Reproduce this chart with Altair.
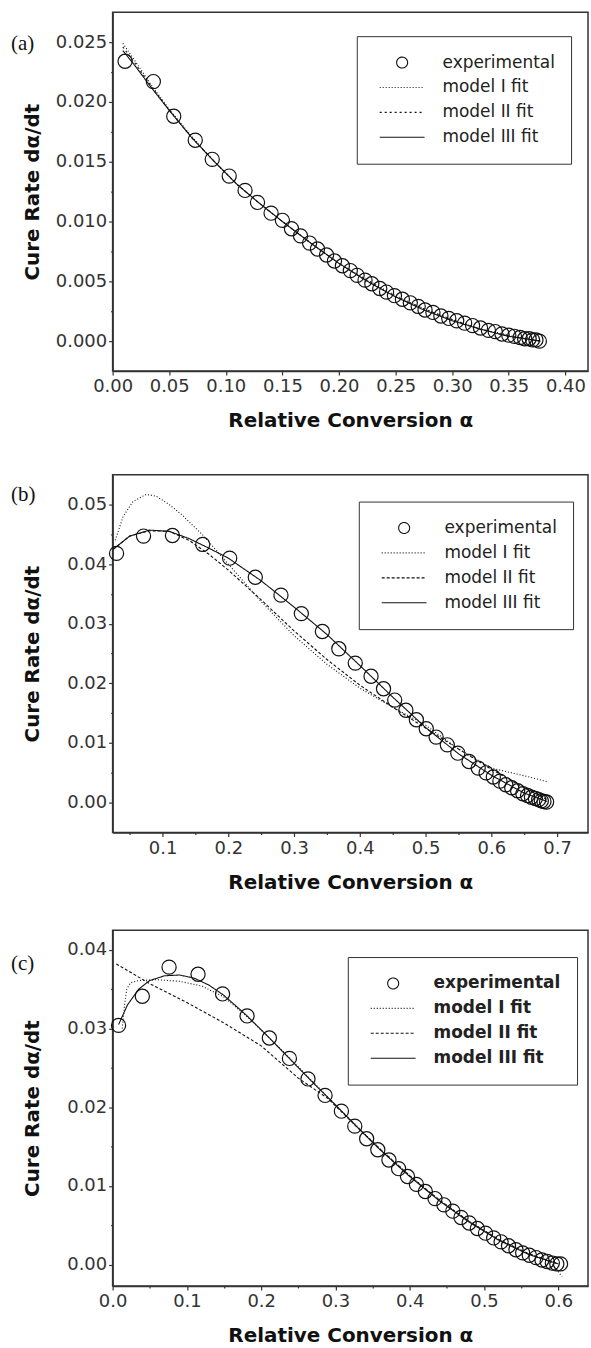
import altair as alt
import pandas as pd

SERIES = ["experimental", "model I fit", "model II fit", "model III fit"]
CIRCLE_PATH = "M0.245,0A0.245,0.245,0,1,1,-0.245,0A0.245,0.245,0,1,1,0.245,0Z"
LINE_PATH = "M-1,0L1,0"
SHAPES = [CIRCLE_PATH, LINE_PATH, LINE_PATH, LINE_PATH]

X_TITLE = "Relative Conversion α"
Y_TITLE = "Cure Rate dα/dt"
PANEL_LABELS = ["(a)", "(b)", "(c)"]

# ---------------- panel (a) ----------------
a_exp_x = [0.011, 0.036, 0.054, 0.073, 0.088, 0.103, 0.117, 0.128, 0.140, 0.150,
           0.158, 0.166, 0.174, 0.181, 0.189, 0.196, 0.203, 0.210, 0.216, 0.223,
           0.229, 0.236, 0.242, 0.249, 0.256, 0.263, 0.270, 0.276, 0.283, 0.290,
           0.297, 0.304, 0.311, 0.318, 0.325, 0.332, 0.338, 0.344, 0.350, 0.355,
           0.360, 0.364, 0.368, 0.371, 0.374, 0.377]
a_exp_y = [0.0234, 0.0217, 0.0188, 0.0168, 0.0152, 0.0138, 0.0126, 0.0116, 0.0107, 0.0101,
           0.0094, 0.0088, 0.0082, 0.0077, 0.0072, 0.0067, 0.0063, 0.0059, 0.0055, 0.0051,
           0.0048, 0.0044, 0.0041, 0.0038, 0.0035, 0.0032, 0.0029, 0.0026, 0.0024, 0.0021,
           0.0019, 0.0017, 0.0015, 0.0013, 0.0011, 0.0009, 0.0008, 0.0006, 0.0005, 0.0004,
           0.0003, 0.0002, 0.0002, 0.0001, 0.0001, 0.0000]
a_fit_x = [0.009, 0.02, 0.035, 0.05, 0.07, 0.09, 0.11, 0.13, 0.15, 0.175, 0.20, 0.225,
           0.25, 0.275, 0.30, 0.325, 0.35, 0.365, 0.378]
a_m1_y = [0.0249, 0.0234, 0.0213, 0.0194, 0.0171, 0.0150, 0.0131, 0.0115, 0.0100, 0.0082,
          0.0065, 0.0051, 0.0038, 0.0027, 0.0018, 0.0010, 0.0005, 0.0002, 0.0000]
a_m2_y = [0.0246, 0.0232, 0.0212, 0.0193, 0.0170, 0.0150, 0.0131, 0.0115, 0.0100, 0.0082,
          0.0065, 0.0050, 0.0037, 0.0027, 0.0018, 0.0010, 0.0004, 0.0002, 0.0000]
a_m3_y = [0.0243, 0.0230, 0.0211, 0.0193, 0.0170, 0.0150, 0.0131, 0.0115, 0.0100, 0.0082,
          0.0065, 0.0050, 0.0037, 0.0026, 0.0017, 0.0010, 0.0004, 0.0002, 0.0000]

# ---------------- panel (b) ----------------
b_exp_x = [0.030, 0.071, 0.115, 0.161, 0.202, 0.241, 0.280, 0.311, 0.343, 0.368,
           0.393, 0.417, 0.436, 0.453, 0.470, 0.486, 0.501, 0.516, 0.533, 0.549,
           0.566, 0.580, 0.592, 0.603, 0.613, 0.622, 0.631, 0.640, 0.648, 0.655,
           0.661, 0.667, 0.672, 0.676, 0.680, 0.684]
b_exp_y = [0.0418, 0.0447, 0.0448, 0.0433, 0.0410, 0.0378, 0.0348, 0.0317, 0.0287, 0.0258,
           0.0234, 0.0212, 0.0191, 0.0172, 0.0155, 0.0139, 0.0124, 0.0110, 0.0097, 0.0083,
           0.0069, 0.0058, 0.0050, 0.0043, 0.0036, 0.0030, 0.0025, 0.0020, 0.0015, 0.0012,
           0.0009, 0.0007, 0.0005, 0.0003, 0.0002, 0.0001]
b_m1_x = [0.028, 0.04, 0.055, 0.075, 0.09, 0.11, 0.13, 0.16, 0.20, 0.25, 0.30, 0.35,
          0.40, 0.45, 0.50, 0.55, 0.60, 0.65, 0.686]
b_m1_y = [0.0440, 0.0480, 0.0505, 0.0517, 0.0514, 0.0500, 0.0482, 0.0450, 0.0400, 0.0337,
          0.0280, 0.0232, 0.0192, 0.0160, 0.0130, 0.0090, 0.0058, 0.0045, 0.0035]
b_m2_x = [0.025, 0.05, 0.08, 0.11, 0.14, 0.17, 0.20, 0.25, 0.30, 0.35, 0.40, 0.45,
          0.50, 0.55, 0.60, 0.65, 0.685]
b_m2_y = [0.0425, 0.0447, 0.0456, 0.0455, 0.0440, 0.0417, 0.0390, 0.0340, 0.0288, 0.0240,
          0.0197, 0.0160, 0.0125, 0.0090, 0.0056, 0.0025, 0.0005]
b_m3_x = [0.025, 0.05, 0.08, 0.11, 0.14, 0.17, 0.20, 0.25, 0.30, 0.35, 0.40, 0.45,
          0.50, 0.55, 0.60, 0.65, 0.685]
b_m3_y = [0.0425, 0.0447, 0.0457, 0.0455, 0.0443, 0.0427, 0.0410, 0.0372, 0.0328, 0.0282,
          0.0230, 0.0177, 0.0126, 0.0082, 0.0046, 0.0016, 0.0002]

# ---------------- panel (c) ----------------
c_exp_x = [0.008, 0.040, 0.076, 0.115, 0.148, 0.181, 0.211, 0.238, 0.263, 0.286,
           0.308, 0.326, 0.342, 0.357, 0.372, 0.385, 0.397, 0.409, 0.421, 0.434,
           0.446, 0.458, 0.469, 0.480, 0.491, 0.502, 0.513, 0.523, 0.533, 0.543,
           0.552, 0.561, 0.570, 0.578, 0.585, 0.592, 0.598, 0.603]
c_exp_y = [0.0304, 0.0341, 0.0378, 0.0369, 0.0344, 0.0316, 0.0288, 0.0262, 0.0236, 0.0215,
           0.0195, 0.0176, 0.0160, 0.0146, 0.0133, 0.0122, 0.0112, 0.0102, 0.0093, 0.0084,
           0.0076, 0.0068, 0.0060, 0.0053, 0.0046, 0.0040, 0.0034, 0.0029, 0.0024, 0.0019,
           0.0015, 0.0012, 0.0009, 0.0006, 0.0004, 0.0002, 0.0001, 0.0001]
c_m1_x = [0.013, 0.016, 0.019, 0.024, 0.035, 0.06, 0.09, 0.12, 0.15, 0.18, 0.21, 0.24,
          0.27, 0.30, 0.33, 0.36, 0.40, 0.44, 0.48, 0.52, 0.56, 0.59, 0.605]
c_m1_y = [0.0300, 0.0330, 0.0350, 0.0358, 0.0361, 0.0362, 0.0360, 0.0354, 0.0340, 0.0316,
          0.0289, 0.0261, 0.0232, 0.0203, 0.0175, 0.0147, 0.0113, 0.0082, 0.0055, 0.0032,
          0.0014, 0.0003, -0.0015]
c_m2_x = [0.005, 0.05, 0.10, 0.15, 0.20, 0.25, 0.29, 0.33, 0.36, 0.40, 0.44, 0.48,
          0.52, 0.56, 0.60]
c_m2_y = [0.0382, 0.0357, 0.0333, 0.0307, 0.0278, 0.0237, 0.0211, 0.0174, 0.0147, 0.0113,
          0.0082, 0.0055, 0.0032, 0.0014, 0.0001]
c_m3_x = [0.008, 0.02, 0.035, 0.05, 0.07, 0.09, 0.11, 0.13, 0.15, 0.18, 0.21, 0.24,
          0.27, 0.30, 0.33, 0.36, 0.40, 0.44, 0.48, 0.52, 0.56, 0.60]
c_m3_y = [0.0305, 0.0330, 0.0350, 0.0361, 0.0367, 0.0368, 0.0364, 0.0355, 0.0342, 0.0317,
          0.0289, 0.0260, 0.0231, 0.0203, 0.0174, 0.0146, 0.0112, 0.0081, 0.0054, 0.0031,
          0.0013, 0.0001]

# axis ticks
a_x_major = [0.0, 0.05, 0.1, 0.15, 0.2, 0.25, 0.3, 0.35, 0.4]
a_x_minor = []
a_y_major = [0.0, 0.005, 0.01, 0.015, 0.02, 0.025]
a_y_minor = [0.0025, 0.0075, 0.0125, 0.0175, 0.0225]
b_x_major = [0.1, 0.2, 0.3, 0.4, 0.5, 0.6, 0.7]
b_x_minor = [0.05, 0.15, 0.25, 0.35, 0.45, 0.55, 0.65]
b_y_major = [0.0, 0.01, 0.02, 0.03, 0.04, 0.05]
b_y_minor = [0.005, 0.015, 0.025, 0.035, 0.045]
c_x_major = [0.0, 0.1, 0.2, 0.3, 0.4, 0.5, 0.6]
c_x_minor = [0.05, 0.15, 0.25, 0.35, 0.45, 0.55]
c_y_major = [0.0, 0.01, 0.02, 0.03, 0.04]
c_y_minor = [0.005, 0.015, 0.025, 0.035]

PLOT_W = 477
LABEL_FONT = "DejaVu Sans"
INK = "#111111"


def make_axis(major, minor, fmt, title, is_y, h):
    arr = "[" + ",".join(repr(v) for v in major) + "]"
    kw = dict(
        values=sorted(major + minor),
        labelExpr=f"indexof({arr}, datum.value) >= 0 ? format(datum.value, '{fmt}') : ''",
        tickSize={"condition": {"test": f"indexof({arr}, datum.value) < 0", "value": 2}, "value": 4},
        title=title,
        grid=False,
        labelFlush=False,
        labelOverlap=False,
    )
    if is_y:
        kw.update(labelPadding=2, titleX=-74, titleY=h / 2, titleAngle=270,
                  titleAlign="center", titleBaseline="alphabetic")
    else:
        kw.update(labelPadding=3, titlePadding=15)
    return alt.Axis(**kw)


def panel(exp_x, exp_y, fits, xdom, ydom, xmaj, xmin, ymaj, ymin, xfmt, yfmt, h,
          label, label_y, leg_x, leg_y, dashes, bold):
    pts = pd.DataFrame({"x": exp_x, "y": exp_y, "series": "experimental"})
    lines = pd.concat([
        pd.DataFrame({"x": fx, "y": fy, "series": name})
        for name, (fx, fy) in zip(SERIES[1:], fits)
    ])
    x_enc = alt.X("x:Q", scale=alt.Scale(domain=xdom, nice=False, zero=False),
                  axis=make_axis(xmaj, xmin, xfmt, X_TITLE, False, h))
    y_enc = alt.Y("y:Q", scale=alt.Scale(domain=ydom, nice=False, zero=False),
                  axis=make_axis(ymaj, ymin, yfmt, Y_TITLE, True, h))
    leg = alt.Legend(
        title=None, orient="none", legendX=leg_x, legendY=leg_y,
        strokeColor="#333333", fillColor="white", padding=16, cornerRadius=0,
        symbolSize=2025, symbolOffset=6, clipHeight=21, rowPadding=4,
        labelOffset=17, labelFont=LABEL_FONT, labelFontSize=17, labelColor="#222222",
        labelFontWeight="bold" if bold else "normal",
        symbolStrokeColor=INK, symbolStrokeWidth=1.1, symbolFillColor="transparent",
        symbolOpacity=1,
    )
    points = alt.Chart(pts).mark_point(
        size=3364, filled=False, color=INK, strokeWidth=1.2, opacity=1
    ).encode(
        x=x_enc, y=y_enc,
        shape=alt.Shape("series:N", scale=alt.Scale(domain=SERIES, range=SHAPES), legend=leg),
    )
    fit_lines = alt.Chart(lines).mark_line(color=INK, strokeWidth=1.1).encode(
        x=x_enc, y=y_enc,
        strokeDash=alt.StrokeDash("series:N", scale=alt.Scale(domain=SERIES, range=dashes), legend=leg),
    )
    tag = alt.Chart(pd.DataFrame({"label": [label]})).mark_text(
        font="Liberation Serif", fontSize=21, align="left", baseline="middle", color=INK
    ).encode(x=alt.value(-102), y=alt.value(label_y), text="label:N")
    return alt.layer(points, fit_lines, tag).properties(width=PLOT_W, height=h)


pa = panel(a_exp_x, a_exp_y, [(a_fit_x, a_m1_y), (a_fit_x, a_m2_y), (a_fit_x, a_m3_y)],
           [0.0, 0.42], [-0.0025, 0.0275], a_x_major, a_x_minor, a_y_major, a_y_minor,
           ".2f", ".3f", 360, PANEL_LABELS[0], 32, 245, 24,
           [[1, 0], [1, 2], [2, 3], [1, 0]], False)
pb = panel(b_exp_x, b_exp_y, [(b_m1_x, b_m1_y), (b_m2_x, b_m2_y), (b_m3_x, b_m3_y)],
           [0.024, 0.747], [-0.005, 0.055], b_x_major, b_x_minor, b_y_major, b_y_minor,
           ".1f", ".2f", 359, PANEL_LABELS[1], 20, 247, 27,
           [[1, 0], [1, 2], [3, 2], [1, 0]], False)
pc = panel(c_exp_x, c_exp_y, [(c_m1_x, c_m1_y), (c_m2_x, c_m2_y), (c_m3_x, c_m3_y)],
           [0.0, 0.64], [-0.0027, 0.0425], c_x_major, c_x_minor, c_y_major, c_y_minor,
           ".1f", ".2f", 357, PANEL_LABELS[2], 34, 236, 27,
           [[1, 0], [1, 2], [3, 2], [1, 0]], True)

top = alt.vconcat(pa, pb, spacing=42).resolve_scale(shape="independent", strokeDash="independent")
chart = alt.vconcat(top, pc, spacing=36).resolve_scale(
    shape="independent", strokeDash="independent"
).properties(
    padding={"left": 10, "top": 9, "right": 2, "bottom": 0}
).configure_view(
    stroke="#333333", strokeWidth=1.5
).configure_axis(
    domainColor="#333333", domainWidth=1.5, tickColor="#333333", tickWidth=1.2,
    labelFont=LABEL_FONT, labelFontSize=18, labelColor="#333333",
    titleFont=LABEL_FONT, titleFontSize=20, titleFontWeight="bold", titleColor=INK,
)

chart.save("out.html", embed_options={"renderer": "svg", "actions": False})
